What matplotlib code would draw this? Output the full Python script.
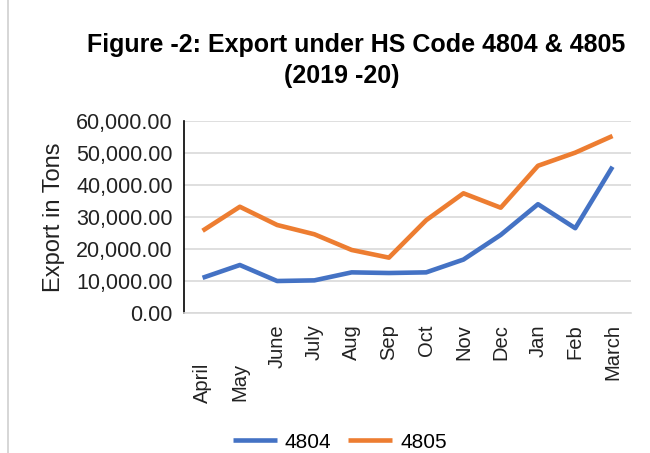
import matplotlib.pyplot as plt
from matplotlib.lines import Line2D

plt.rcParams["font.family"] = ["Liberation Sans", "DejaVu Sans"]

months = ["April", "May", "June", "July", "Aug", "Sep",
          "Oct", "Nov", "Dec", "Jan", "Feb", "March"]
export_4804 = [11000, 15000, 10000, 10200, 12700, 12500,
               12700, 16700, 24400, 34000, 26500, 45700]
export_4805 = [25700, 33200, 27500, 24600, 19700, 17300,
               29000, 37400, 32900, 46000, 50100, 55300]
y_ticks = [0, 10000, 20000, 30000, 40000, 50000, 60000]

fig = plt.figure(figsize=(6.5, 4.53), dpi=100)
ax = fig.add_axes([0.283, 0.309, 0.688, 0.424])

x = range(len(months))
ax.plot(x, export_4804, color="#4472C4", lw=3.3, label="4804",
        solid_capstyle="butt")
ax.plot(x, export_4805, color="#ED7D31", lw=3.3, label="4805",
        solid_capstyle="butt")

ax.set_xlim(-0.5, len(months) - 0.5)
ax.set_ylim(0, 60000)
ax.set_yticks(y_ticks)
ax.set_yticklabels([f"{v:,.2f}" for v in y_ticks])
ax.set_xticks(list(x))
ax.set_xticklabels(months, rotation=90)
ax.tick_params(axis="y", length=0, pad=8, labelsize=15.5, labelcolor="#222222")
ax.tick_params(axis="x", length=0, pad=8, labelsize=14.5, labelcolor="#222222")
# April / May labels sit lower in the original
for t in ax.xaxis.get_major_ticks()[:2]:
    t.set_pad(36)

ax.grid(axis="y", color="#D9D9D9", lw=1.2)
ax.set_axisbelow(True)
for s in ("top", "right"):
    ax.spines[s].set_visible(False)
ax.spines["bottom"].set_color("#D9D9D9")
ax.spines["bottom"].set_linewidth(1.2)
ax.spines["left"].set_color("black")
ax.spines["left"].set_linewidth(1.2)

ax.set_ylabel("Export in Tons", fontsize=17, color="#222222", labelpad=8)

fig.text(0.548, 0.90, "Figure -2: Export under HS Code 4804 & 4805",
         ha="center", va="center", fontsize=18, fontweight="bold")
fig.text(0.525, 0.832, "(2019 -20)", ha="center", va="center",
         fontsize=18, fontweight="bold")

fig.legend(loc="center", bbox_to_anchor=(0.523, 0.024), ncol=2, frameon=False,
           fontsize=15, handlelength=2.1, handletextpad=0.4,
           columnspacing=0.8)

fig.add_artist(Line2D([8 / 650, 8 / 650], [0, 1], color="#D0D0D0", lw=1.2,
                      transform=fig.transFigure))

fig.savefig("out.png", dpi=100)
